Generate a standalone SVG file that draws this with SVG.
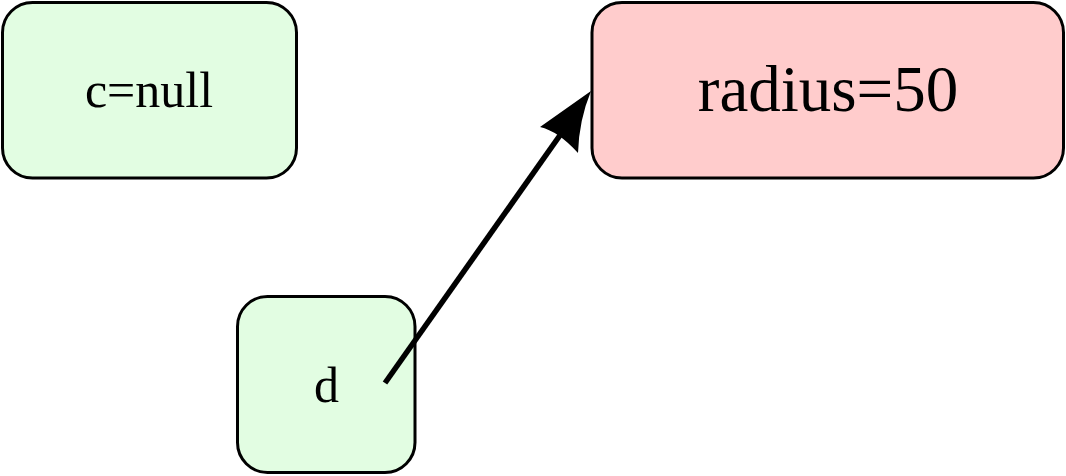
<svg xmlns="http://www.w3.org/2000/svg" width="1066" height="476" viewBox="0 0 1066 476">
<style>
.box{stroke:#000;stroke-width:3}
.green{fill:#e2fde2}
.pink{fill:#ffcccc}
text{font-family:"Liberation Serif","Times New Roman",serif;fill:#000;text-anchor:middle}
</style>
<rect width="1066" height="476" fill="#fff"/>
<g id="node-c">
<rect class="box green" x="2.5" y="2.5" width="294" height="175.5" rx="30"/>
<text x="149" y="107" font-size="50">c=null</text>
</g>
<g id="node-radius">
<rect class="box pink" x="592" y="2.5" width="471.5" height="175.5" rx="30"/>
<text x="828" y="111" font-size="65">radius=50</text>
</g>
<g id="node-d">
<rect class="box green" x="237.5" y="296.5" width="177.5" height="176" rx="30"/>
<text x="326.5" y="402" font-size="50">d</text>
</g>
<g id="connectors">
<line x1="385" y1="383" x2="563" y2="131" stroke="#000" stroke-width="5.5"/>
<path d="M591,91 L540,127 Q558,131 578,153 Q579,120 591,91 Z" fill="#000"/>
</g>
</svg>
